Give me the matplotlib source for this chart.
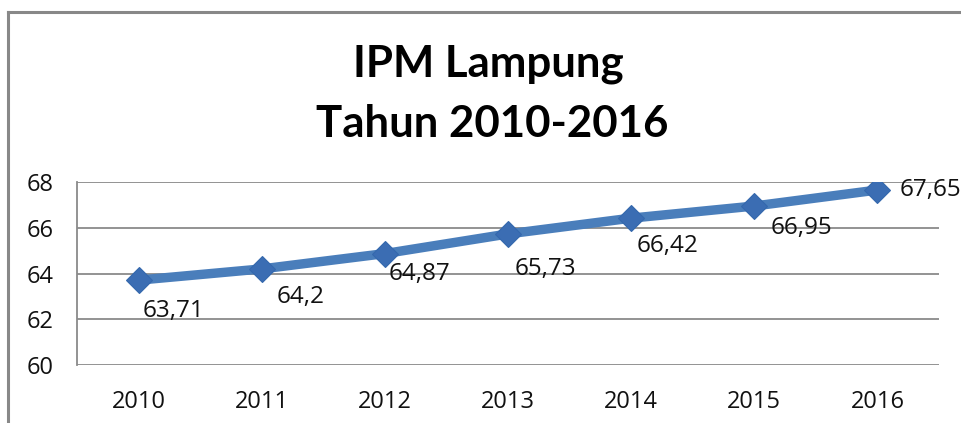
import matplotlib
matplotlib.use("Agg")
import matplotlib.pyplot as plt
from matplotlib.lines import Line2D

years = ["2010", "2011", "2012", "2013", "2014", "2015", "2016"]
ipm = [63.71, 64.2, 64.87, 65.73, 66.42, 66.95, 67.65]
value_labels = ["63,71", "64,2", "64,87", "65,73", "66,42", "66,95", "67,65"]
y_ticks = [60, 62, 64, 66, 68]
title_lines = ["IPM Lampung", "Tahun 2010-2016"]

# label offsets in points (dx, dy) relative to each point, left/center anchored
label_offsets = [(3, -22), (11, -20), (3, -15), (5, -25), (4, -20), (12, -16), (16, 0)]

plt.rcParams['font.family'] = ['Open Sans', 'DejaVu Sans']

fig = plt.figure(figsize=(9.61, 4.23), dpi=100)
fig.patch.set_facecolor('white')

ax = fig.add_axes([77/961, 1 - 365/423, (939 - 77)/961, (365 - 182)/423])
x = list(range(len(years)))

grid_c = '#8a8a8a'
for t in y_ticks:
    ax.axhline(t, color=grid_c, lw=1.3, zorder=1)

ax.plot(x, ipm, color='#4a7ebb', lw=6.8, zorder=3, solid_capstyle='butt')
ax.plot(x, ipm, ls='none', marker='D', ms=13.5, mfc='#3b6db3', mec='#3468ad',
        mew=0.8, zorder=4)

for xi, v, lab, (dx, dy) in zip(x, ipm, value_labels, label_offsets):
    ax.annotate(lab, (xi, v), xytext=(dx, dy), textcoords='offset points',
                ha='left', va='center', fontsize=17.5, color='#111111', zorder=5)

ax.set_xlim(-0.5, len(years) - 0.5)
ax.set_ylim(60, 68)
ax.set_yticks(y_ticks)
ax.set_yticklabels([str(t) for t in y_ticks])
ax.set_xticks(x)
ax.set_xticklabels(years)
ax.tick_params(axis='both', length=0, labelsize=17, colors='#111111')
ax.tick_params(axis='y', pad=17)
ax.tick_params(axis='x', pad=18)
for s in ['top', 'right', 'bottom']:
    ax.spines[s].set_visible(False)
ax.spines['left'].set_color(grid_c)
ax.spines['left'].set_linewidth(1.3)
ax.set_facecolor('none')

fig.text(488/961, 1 - 77/423, title_lines[0], ha='center', va='baseline',
         fontsize=31.5, fontweight='bold', family=['Lato', 'DejaVu Sans'], color='black')
fig.text(492/961, 1 - 137/423, title_lines[1], ha='center', va='baseline',
         fontsize=31.5, fontweight='bold', family=['Lato', 'DejaVu Sans'], color='black')

# chart border (top and left edges visible)
fig.add_artist(Line2D([8/961, 1.0], [1 - 12/423, 1 - 12/423], transform=fig.transFigure,
                      color='#888888', lw=2.2))
fig.add_artist(Line2D([8/961, 8/961], [0, 1 - 12/423], transform=fig.transFigure,
                      color='#888888', lw=2.2))

fig.savefig('out.png', dpi=100)
